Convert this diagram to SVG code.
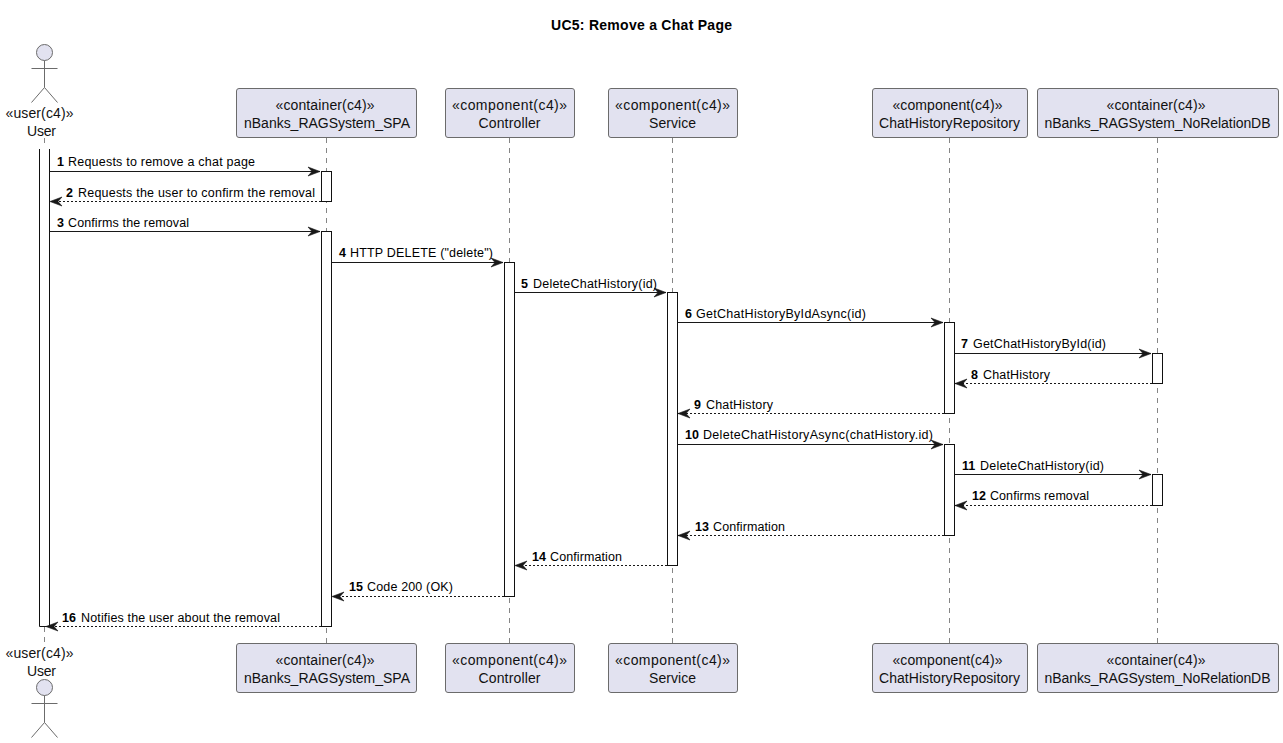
<svg xmlns="http://www.w3.org/2000/svg" width="1283" height="743" viewBox="0 0 1283 743">
<style>
text{font-family:"Liberation Sans",Arial,sans-serif;fill:#000}
.t{font-size:14px;font-weight:bold;text-anchor:middle}
.n{font-size:14px;text-anchor:middle;fill:#111}
.m{font-size:12.5px}
.b{font-weight:bold}
.box{fill:#E2E2F0;stroke:#6b6b6b;stroke-width:1}
.life{stroke:#666;stroke-width:.8;stroke-dasharray:5,5;fill:none}
.act{fill:#fff;stroke:#111;stroke-width:1}
.actfill{fill:#fff;stroke:none}
.actline{fill:none;stroke:#111;stroke-width:1}
.msg{stroke:#181818;stroke-width:1;fill:none;marker-end:url(#ah)}
.ret{stroke:#181818;stroke-width:1;fill:none;stroke-dasharray:2,2;marker-end:url(#ah)}
.act-fig{fill:none;stroke:#6b6b6b;stroke-width:1}
</style>
<defs>
<marker id="ah" markerUnits="userSpaceOnUse" markerWidth="16" markerHeight="14" refX="13" refY="6" orient="auto"><path d="M1,1.500L13,6L1,10.500L5,6Z" fill="#181818" stroke="#181818" stroke-width=".6" stroke-dasharray="none"/></marker>
</defs>
<text class="t" x="641.5" y="30" textLength="181">UC5: Remove a Chat Page</text>
<g id="lifelines">
<path class="life" d="M44.5 138V146"/>
<path class="life" d="M44.5 627V643"/>
<path class="life" d="M326.5 138V643"/>
<path class="life" d="M509.5 138V643"/>
<path class="life" d="M672.5 138V643"/>
<path class="life" d="M949.5 138V643"/>
<path class="life" d="M1157.5 138V643"/>
</g>
<g id="activations">
<rect class="actfill" x="39.5" y="149" width="10" height="477.500"/>
<path class="actline" d="M39.500 149V626.500H49.500V149"/>
<rect class="act" x="321.5" y="171.500" width="10" height="30"/>
<rect class="act" x="321.5" y="231.500" width="10" height="395"/>
<rect class="act" x="504.5" y="262.500" width="10" height="334"/>
<rect class="act" x="667.5" y="292.500" width="10" height="273"/>
<rect class="act" x="944.5" y="322.500" width="10" height="91"/>
<rect class="act" x="1152.5" y="353.500" width="10" height="30"/>
<rect class="act" x="944.5" y="444.500" width="10" height="91"/>
<rect class="act" x="1152.5" y="474.500" width="10" height="31"/>
</g>
<g id="actor-user-top">
<circle class="box" cx="44.5" cy="52.500" r="8"/>
<path class="act-fig" d="M44.5 60.500V87.500M31.500 68.500H57.500M31.500 102.500L44.500 87.500L57.500 102.500"/>
<text class="n" x="39.500" y="118" textLength="68">«user(c4)»</text>
<text class="n" x="41.500" y="136" textLength="29">User</text>
</g>
<g id="actor-user-bottom">
<text class="n" x="39.500" y="658" textLength="68">«user(c4)»</text>
<text class="n" x="41.500" y="676" textLength="29">User</text>
<circle class="box" cx="44.5" cy="687.500" r="8"/>
<path class="act-fig" d="M44.5 695.500V722.500M31.500 703.500H57.500M31.500 737.500L44.500 722.500L57.500 737.500"/>
</g>
<g id="spa-top"><rect class="box" x="236.500" y="88.500" width="180" height="49" rx="2.500"/><text class="n" x="325" y="110" textLength="99">«container(c4)»</text><text class="n" x="327" y="128" textLength="166">nBanks_RAGSystem_SPA</text></g>
<g id="controller-top"><rect class="box" x="445.500" y="88.500" width="129" height="49" rx="2.500"/><text class="n" x="509.500" y="110" textLength="115">«component(c4)»</text><text class="n" x="509.500" y="128" textLength="62">Controller</text></g>
<g id="service-top"><rect class="box" x="608.500" y="88.500" width="129" height="49" rx="2.500"/><text class="n" x="672.500" y="110" textLength="115">«component(c4)»</text><text class="n" x="672.500" y="128" textLength="47">Service</text></g>
<g id="repo-top"><rect class="box" x="872.500" y="88.500" width="155" height="49" rx="2.500"/><text class="n" x="947.500" y="110" textLength="110">«component(c4)»</text><text class="n" x="949.500" y="128" textLength="141">ChatHistoryRepository</text></g>
<g id="db-top"><rect class="box" x="1037.500" y="88.500" width="241" height="49" rx="2.500"/><text class="n" x="1156" y="110" textLength="99">«container(c4)»</text><text class="n" x="1157.500" y="128" textLength="226">nBanks_RAGSystem_NoRelationDB</text></g>
<g id="spa-bottom"><rect class="box" x="236.500" y="643.500" width="180" height="49" rx="2.500"/><text class="n" x="325" y="665" textLength="99">«container(c4)»</text><text class="n" x="327" y="683" textLength="166">nBanks_RAGSystem_SPA</text></g>
<g id="controller-bottom"><rect class="box" x="445.500" y="643.500" width="129" height="49" rx="2.500"/><text class="n" x="509.500" y="665" textLength="115">«component(c4)»</text><text class="n" x="509.500" y="683" textLength="62">Controller</text></g>
<g id="service-bottom"><rect class="box" x="608.500" y="643.500" width="129" height="49" rx="2.500"/><text class="n" x="672.500" y="665" textLength="115">«component(c4)»</text><text class="n" x="672.500" y="683" textLength="47">Service</text></g>
<g id="repo-bottom"><rect class="box" x="872.500" y="643.500" width="155" height="49" rx="2.500"/><text class="n" x="947.500" y="665" textLength="110">«component(c4)»</text><text class="n" x="949.500" y="683" textLength="141">ChatHistoryRepository</text></g>
<g id="db-bottom"><rect class="box" x="1037.500" y="643.500" width="241" height="49" rx="2.500"/><text class="n" x="1156" y="665" textLength="99">«container(c4)»</text><text class="n" x="1157.500" y="683" textLength="226">nBanks_RAGSystem_NoRelationDB</text></g>
<g id="connectors">
<path class="msg" d="M49.500 171.500H320"/>
<path class="ret" d="M321 201.500H50"/>
<path class="msg" d="M49.500 231.500H320"/>
<path class="msg" d="M331.500 262.500H503"/>
<path class="msg" d="M514.500 292.500H666"/>
<path class="msg" d="M677.500 322.500H943"/>
<path class="msg" d="M954.500 353.500H1151"/>
<path class="ret" d="M1152 383.500H955"/>
<path class="ret" d="M944 413.500H678"/>
<path class="msg" d="M677.500 444.500H943"/>
<path class="msg" d="M954.500 474.500H1151"/>
<path class="ret" d="M1152 505.500H955"/>
<path class="ret" d="M944 535.500H678"/>
<path class="ret" d="M667 565.500H515"/>
<path class="ret" d="M504 596.500H332"/>
<path class="ret" d="M321 626.500H46"/>
</g>
<g id="labels">
<text class="m b" x="57" y="166">1</text><text class="m" x="68" y="166" textLength="187">Requests to remove a chat page</text>
<text class="m b" x="66" y="197">2</text><text class="m" x="78" y="197" textLength="237">Requests the user to confirm the removal</text>
<text class="m b" x="57" y="227">3</text><text class="m" x="68" y="227" textLength="121">Confirms the removal</text>
<text class="m b" x="339" y="257">4</text><text class="m" x="350" y="257" textLength="143">HTTP DELETE ("delete")</text>
<text class="m b" x="521" y="288">5</text><text class="m" x="533" y="288" textLength="124">DeleteChatHistory(id)</text>
<text class="m b" x="685" y="318">6</text><text class="m" x="696" y="318" textLength="170">GetChatHistoryByIdAsync(id)</text>
<text class="m b" x="961" y="348">7</text><text class="m" x="973" y="348" textLength="133">GetChatHistoryById(id)</text>
<text class="m b" x="971" y="379">8</text><text class="m" x="983" y="379" textLength="67">ChatHistory</text>
<text class="m b" x="694" y="409">9</text><text class="m" x="706" y="409" textLength="67">ChatHistory</text>
<text class="m b" x="685" y="439">10</text><text class="m" x="703" y="439" textLength="230">DeleteChatHistoryAsync(chatHistory.id)</text>
<text class="m b" x="962" y="470">11</text><text class="m" x="980" y="470" textLength="124">DeleteChatHistory(id)</text>
<text class="m b" x="972" y="500">12</text><text class="m" x="990" y="500" textLength="99">Confirms removal</text>
<text class="m b" x="695" y="531">13</text><text class="m" x="713" y="531" textLength="72">Confirmation</text>
<text class="m b" x="532" y="561">14</text><text class="m" x="550" y="561" textLength="72">Confirmation</text>
<text class="m b" x="349" y="591">15</text><text class="m" x="367" y="591" textLength="86">Code 200 (OK)</text>
<text class="m b" x="62" y="622">16</text><text class="m" x="81" y="622" textLength="199">Notifies the user about the removal</text>
</g>
</svg>
